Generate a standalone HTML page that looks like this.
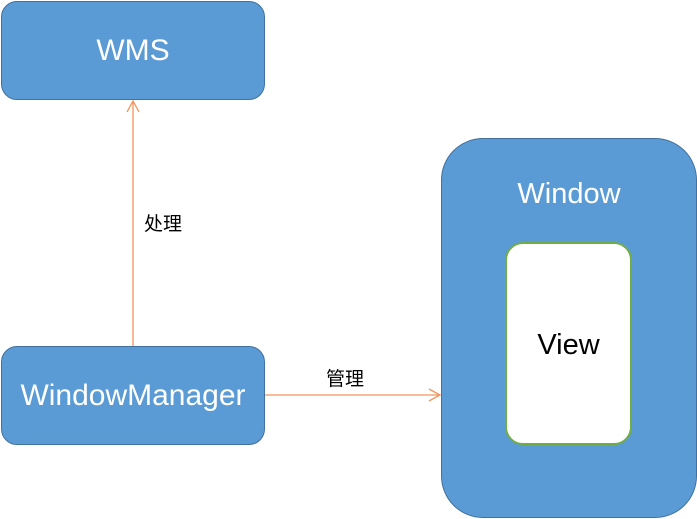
<!DOCTYPE html>
<html><head><meta charset="utf-8"><style>
html,body{margin:0;padding:0;background:#fff;width:697px;height:519px;overflow:hidden;position:relative;font-family:"Liberation Sans","Noto Sans CJK SC",sans-serif;}
.b{position:absolute;box-sizing:border-box;background:#5B9BD5;border:1.5px solid #41719C;color:#fff;display:flex;justify-content:center;align-items:center;font-size:30px;}
</style></head><body>
<div class="b" style="left:1px;top:1px;width:264px;height:99px;border-radius:16px;">WMS</div>
<div class="b" style="left:1px;top:346px;width:264px;height:99px;border-radius:16px;">WindowManager</div>
<div class="b" style="left:441px;top:138px;width:256px;height:380px;border-radius:42px;align-items:flex-start;"><span style="margin-top:39px;font-size:29px;">Window</span></div>
<div class="b" style="left:505px;top:242px;width:127px;height:203px;border-radius:18px;background:#fff;border:2px solid #70AD47;color:#000;font-size:29px;"><span style="position:relative;top:2px">View</span></div>
<svg width="697" height="519" style="position:absolute;left:0;top:0">
<g stroke="#F4935A" stroke-width="1.3" fill="none">
<line x1="133" y1="346" x2="133" y2="101"/>
<polyline points="127,112 133,101 139,112"/>
<line x1="265" y1="395" x2="440" y2="395"/>
<polyline points="429,389 440,395 429,401"/>
</g>
<text x="144" y="230" font-size="19" font-family="Liberation Sans,Noto Sans CJK SC,sans-serif" fill="#000">处理</text>
<text x="326" y="385" font-size="19" font-family="Liberation Sans,Noto Sans CJK SC,sans-serif" fill="#000">管理</text>
</svg>
</body></html>
